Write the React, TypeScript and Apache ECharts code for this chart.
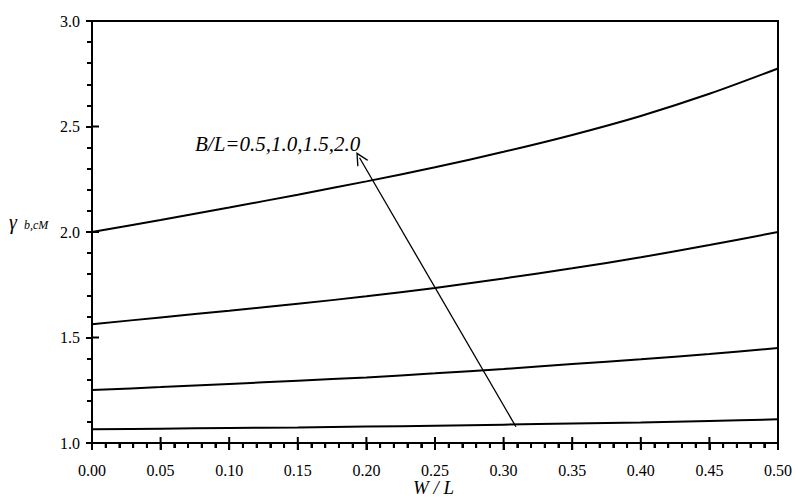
import React, { useEffect, useRef } from "react";
import * as echarts from "echarts";

// W/L values (x axis)
const wl: number[] = [0, 0.05, 0.1, 0.15, 0.2, 0.25, 0.3, 0.35, 0.4, 0.45, 0.5];
// gamma_b,cM for B/L = 0.5, 1.0, 1.5, 2.0
const bl05: number[] = [1.065, 1.068, 1.071, 1.074, 1.078, 1.082, 1.087, 1.092, 1.097, 1.104, 1.112];
const bl10: number[] = [1.251, 1.265, 1.28, 1.295, 1.311, 1.33, 1.351, 1.374, 1.397, 1.422, 1.45];
const bl15: number[] = [1.563, 1.595, 1.627, 1.66, 1.695, 1.735, 1.78, 1.828, 1.88, 1.938, 2.0];
const bl20: number[] = [2.0, 2.057, 2.116, 2.177, 2.24, 2.307, 2.38, 2.46, 2.55, 2.655, 2.775];
const seriesNames: string[] = ["B/L=0.5", "B/L=1.0", "B/L=1.5", "B/L=2.0"];
// axis ranges and tick steps
const xRange: number[] = [0, 0.5];
const yRange: number[] = [1.0, 3.0];
const xMajorStep = 0.05;
const yMajorStep = 0.5;
const minorPerMajor = 5;
// arrow: from tail (near lowest curve) to head
const arrowFrom: number[] = [0.309, 1.077];
const arrowTo: number[] = [0.195, 2.352];
const annotation = "B/L=0.5,1.0,1.5,2.0";
const xTitle = "W / L";
const yTitleMain = "γ";
const yTitleSub = "b,cM";

const FONT = "Liberation Serif";
const W = 795;
const H = 504;
const GRID = { left: 92, right: 16, top: 21, bottom: 61 };

function tickList(min: number, max: number, step: number, sub: number): number[][] {
  const out: number[][] = [];
  const n = Math.round((max - min) / step) * sub;
  for (let i = 0; i <= n; i++) {
    out.push([+(min + (i * step) / sub).toFixed(6), i % sub === 0 ? 1 : 0]);
  }
  return out;
}

export default function App() {
  const ref = useRef<HTMLDivElement>(null);
  useEffect(() => {
    document.body.style.margin = "0";
    const chart = echarts.init(ref.current!, null, { renderer: "svg" });
    const all = [bl05, bl10, bl15, bl20];
    const series: any[] = all.map((arr, i) => ({
      name: seriesNames[i],
      type: "line",
      data: wl.map((x, j) => [x, arr[j]]),
      smooth: 0.3,
      showSymbol: false,
      symbol: "none",
      lineStyle: { color: "#000", width: 2 },
      z: 3,
    }));
    series[0].markLine = {
      silent: true,
      symbol: ["none", "path://M5,0 L10,14 L8.8,14 L5,3.2 L1.2,14 L0,14 Z"],
      symbolSize: 13,
      label: { show: false },
      lineStyle: { color: "#000", width: 1.3, type: "solid" },
      data: [[{ coord: arrowFrom }, { coord: arrowTo }]],
    };
    // tick marks as short two-point line series through the axes' scales
    const xPerPx = (xRange[1] - xRange[0]) / (W - GRID.left - GRID.right);
    const yPerPx = (yRange[1] - yRange[0]) / (H - GRID.top - GRID.bottom);
    const tickSeries = (data: number[][]) => ({
      type: "line",
      data,
      showSymbol: false,
      symbol: "none",
      clip: false,
      silent: true,
      z: 10,
      lineStyle: { color: "#000", width: 2 },
      tooltip: { show: false },
    });
    tickList(xRange[0], xRange[1], xMajorStep, minorPerMajor).forEach(([v, major]) => {
      series.push(
        tickSeries([
          [v, yRange[0] - (major ? 7 : 5) * yPerPx],
          [v, yRange[0] + (major ? 6 : 0.01) * yPerPx],
        ])
      );
    });
    tickList(yRange[0], yRange[1], yMajorStep, minorPerMajor).forEach(([v, major]) => {
      series.push(
        tickSeries([
          [xRange[0] - (major ? 6 : 5) * xPerPx, v],
          [xRange[0] + (major ? 7 : 0.01) * xPerPx, v],
        ])
      );
    });
    const tickStyle = { color: "#000", width: 2 };
    const labelStyle = { color: "#000", fontFamily: FONT, fontSize: 16 };
    chart.setOption({
      animation: false,
      grid: { ...GRID, show: true, borderColor: "#000", borderWidth: 2 },
      xAxis: {
        type: "value",
        min: xRange[0],
        max: xRange[1],
        interval: xMajorStep,
        axisLine: { show: true, lineStyle: { color: "#000", width: 2 } },
        axisTick: { show: true, length: 7, lineStyle: tickStyle },
        minorTick: { show: true, splitNumber: minorPerMajor, length: 5, lineStyle: tickStyle },
        axisLabel: { ...labelStyle, padding: [11, 0, 0, 0], formatter: (v: number) => v.toFixed(2) },
        splitLine: { show: false },
      },
      yAxis: {
        type: "value",
        min: yRange[0],
        max: yRange[1],
        interval: yMajorStep,
        axisLine: { show: true, lineStyle: { color: "#000", width: 2 } },
        axisTick: { show: true, length: 6, lineStyle: tickStyle },
        minorTick: { show: true, splitNumber: minorPerMajor, length: 5, lineStyle: tickStyle },
        axisLabel: { ...labelStyle, padding: [0, 4, 0, 0], formatter: (v: number) => v.toFixed(1) },
        splitLine: { show: false },
      },
      series,
      graphic: [
        {
          type: "text", left: 195, top: 133, silent: true,
          style: { text: annotation, fill: "#000", fontFamily: FONT, fontStyle: "italic", fontSize: 21 },
        },
        {
          type: "text", left: 413, top: 478, silent: true,
          style: { text: xTitle, fill: "#000", fontFamily: FONT, fontStyle: "italic", fontSize: 19 },
        },
        {
          type: "text", left: 9, top: 212, silent: true,
          style: { text: yTitleMain, fill: "#000", fontFamily: FONT, fontStyle: "italic", fontSize: 20 },
        },
        {
          type: "text", left: 24, top: 219, silent: true,
          style: { text: yTitleSub, fill: "#000", fontFamily: FONT, fontStyle: "italic", fontSize: 12 },
        },
      ],
    });
    return () => chart.dispose();
  }, []);
  return <div ref={ref} style={{ width: W, height: H }} />;
}
